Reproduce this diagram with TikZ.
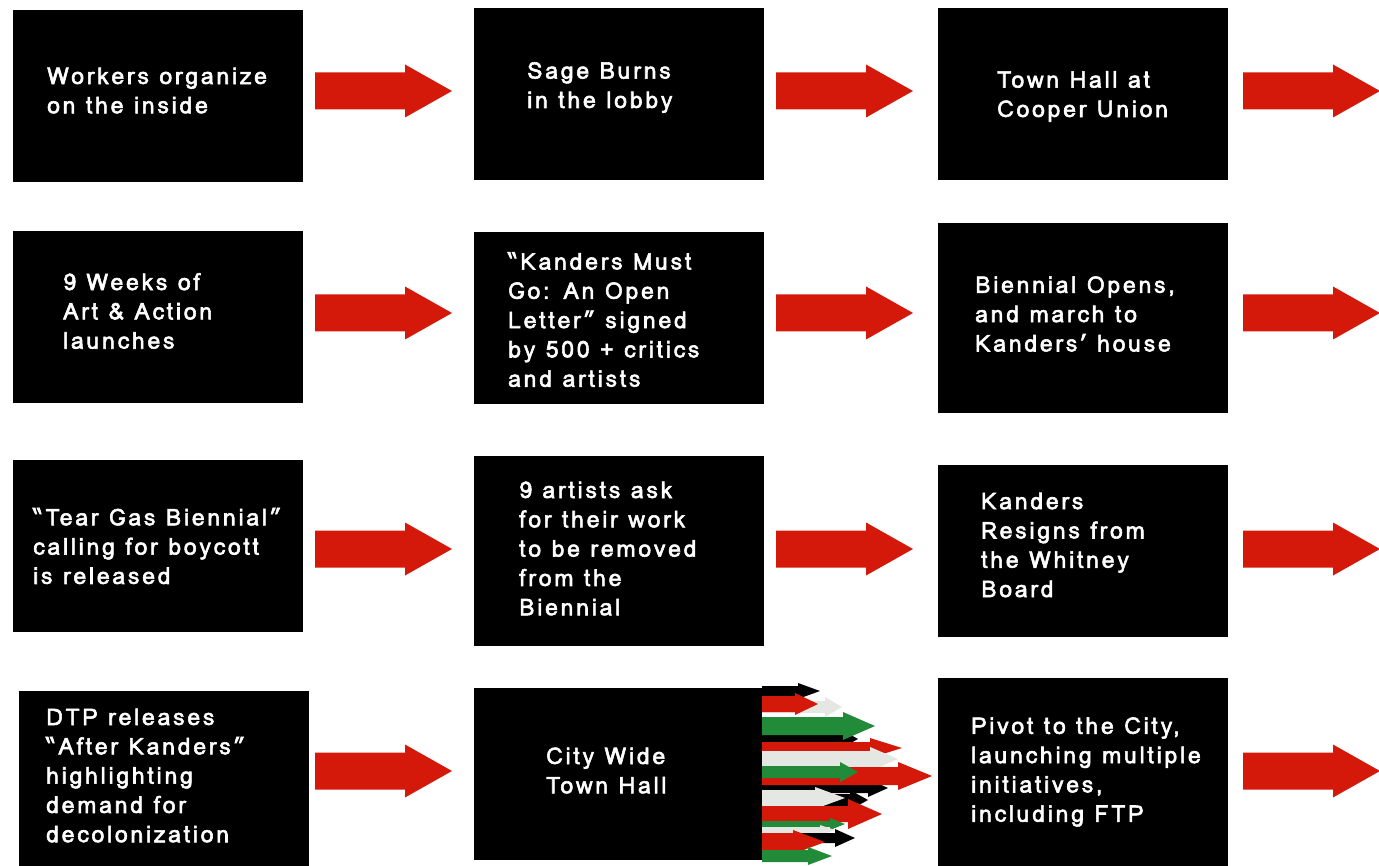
\documentclass[tikz,border=0pt]{standalone}
\usepackage{fontspec}
\setmainfont{Loma}[FakeBold=2.4, LetterSpace=12]
\definecolor{ared}{RGB}{212,24,10}
\definecolor{agreen}{RGB}{34,139,58}
\definecolor{agray}{RGB}{229,231,226}
\tikzset{
 box/.style={fill=black, draw=none, inner sep=0pt, outer sep=0pt, anchor=north west, minimum width=290pt, minimum height=172pt},
 lbl/.style={anchor=west, align=left, text=white, font=\fontsize{23}{29.3}\selectfont, inner sep=0pt},
 bigarrow/.style={fill=ared, draw=none},
}
\newcommand\marrow[6]{\fill[#1] (762,{#2-#3}) -- (#5,{#2-#3}) -- (#5,{#2-#4}) -- (#6,#2) -- (#5,{#2+#4}) -- (#5,{#2+#3}) -- (762,{#2+#3}) -- cycle;}
% red block arrow: name, x start, y centre
\newcommand\redarrow[3]{\coordinate (#1) at (#2,#3);
 \fill[bigarrow] ($(#1)+(0,-18.5)$) -- ++(90,0) -- ++(0,-8) -- ($(#1)+(137,0)$) -- ($(#1)+(90,26.5)$) -- ++(0,-8) -- ($(#1)+(0,18.5)$) -- cycle;}
\usetikzlibrary{calc}
\begin{document}
\begin{tikzpicture}[x=1pt,y=-1pt]
\useasboundingbox (0,0) rectangle (1379,866);
% row 1
\node[box] (b11) at (13,10) {};
\node[box] (b12) at (474,8) {};
\node[box] (b13) at (938,8) {};
% row 2
\node[box] (b21) at (13,231) {};
\node[box] (b22) at (474,232) {};
\node[box, minimum height=190pt] (b23) at (938,223) {};
% row 3
\node[box] (b31) at (13,460) {};
\node[box, minimum height=190pt] (b32) at (474,456) {};
\node[box] (b33) at (938,465) {};
% multi-coloured arrows
\marrow{agray}{707}{6}{10}{825}{842}
\marrow{black}{691}{5}{8}{798}{820}
\marrow{ared}{704}{8}{11}{795}{818}
\marrow{black}{739}{5}{10}{840}{858}
\marrow{agreen}{726}{9}{14}{843}{875}
\marrow{ared}{748}{6}{10}{870}{902}
\marrow{agray}{759}{8}{12}{870}{898}
\marrow{black}{788}{5}{9}{868}{888}
\marrow{ared}{776}{9}{14}{898}{932}
\marrow{agreen}{772}{6}{10}{840}{858}
\marrow{black}{800}{6}{10}{850}{868}
\marrow{agray}{798}{8}{11}{815}{845}
\marrow{ared}{814}{8}{15}{848}{882}
\marrow{agreen}{824}{3}{6}{830}{845}
\marrow{agray}{830}{3}{5}{820}{835}
\marrow{black}{838}{5}{9}{835}{855}
\marrow{ared}{842}{9}{12}{793}{825}
\marrow{agreen}{856}{6}{9}{808}{832}
% row 4
\node[box, minimum height=175pt] (b41) at (19,691) {};
\node[box, minimum width=288pt] (b42) at (474,688) {};
\node[box, minimum height=188pt] (b43) at (938,678) {};
% labels
\node[lbl] (t11) at (47,90.5) {Workers organize\\on the inside};
\node[lbl] (t12) at (527,87.5) {Sage Burns\\in the lobby};
\node[lbl] (t13) at (997,96.5) {Town Hall at\\Cooper Union};
\node[lbl] (t21) at (63,311) {9 Weeks of\\Art \& Action\\launches};
\node[lbl] (t22) at (508,319.5) {“Kanders Must\\Go: An Open\\Letter” signed\\by 500 + critics\\and artists};
\node[lbl] (t23) at (975,314) {Biennial Opens,\\and march to\\Kanders’ house};
\node[lbl] (t31) at (33,546) {“Tear Gas Biennial”\\calling for boycott\\is released};
\node[lbl] (t32) at (519,548.5) {9 artists ask\\for their work\\to be removed\\from the\\Biennial};
\node[lbl] (t33) at (981,545) {Kanders\\Resigns from\\the Whitney\\Board};
\node[lbl] (t41) at (46,775.5) {DTP releases\\“After Kanders”\\highlighting\\demand for\\decolonization};
\node[lbl] (t42) at (546,770.5) {City Wide\\Town Hall};
\node[lbl] (t43) at (971,772) {Pivot to the City,\\launching multiple\\initiatives,\\including FTP};
% red block arrows
\redarrow{a11}{315}{91}
\redarrow{a12}{776}{91}
\redarrow{a13}{1243}{91}
\redarrow{a21}{315}{313}
\redarrow{a22}{776}{313}
\redarrow{a23}{1243}{313}
\redarrow{a31}{315}{549}
\redarrow{a32}{776}{549}
\redarrow{a33}{1243}{549}
\redarrow{a41}{315}{771}
\redarrow{a43}{1243}{771}
\end{tikzpicture}
\end{document}
